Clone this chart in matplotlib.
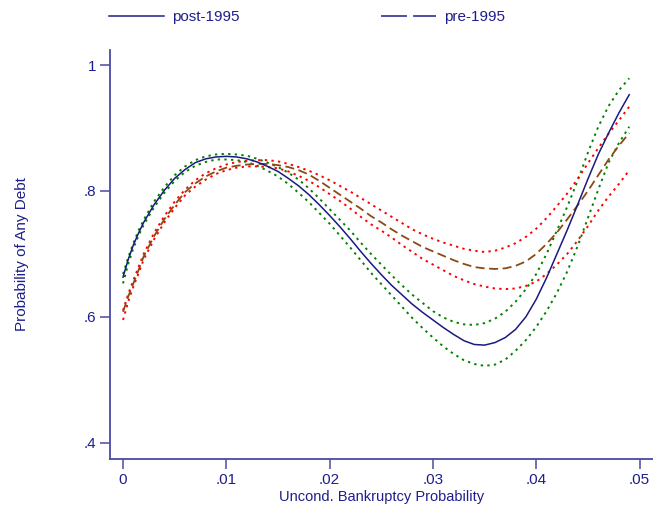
import matplotlib
matplotlib.use('Agg')
import matplotlib.pyplot as plt
from matplotlib.lines import Line2D

# values
bankr = [0, 0.0005, 0.001, 0.0015, 0.002,
         0.003, 0.004, 0.005, 0.006, 0.007, 0.008, 0.009, 0.010,
         0.011, 0.012, 0.013, 0.014, 0.015, 0.016, 0.017, 0.018, 0.019, 0.020,
         0.021, 0.022, 0.023, 0.024, 0.025, 0.026, 0.027, 0.028, 0.029, 0.030,
         0.031, 0.032, 0.033, 0.034, 0.035, 0.036, 0.037, 0.038, 0.039, 0.040,
         0.041, 0.042, 0.043, 0.044, 0.045, 0.046, 0.047, 0.048, 0.049]

post_1995 = [0.663, 0.691, 0.714, 0.733, 0.750,
             0.778, 0.801, 0.820, 0.834, 0.845, 0.851, 0.854, 0.855,
             0.854, 0.851, 0.846, 0.839, 0.831, 0.820, 0.808, 0.794, 0.778, 0.761,
             0.743, 0.724, 0.704, 0.685, 0.667, 0.650, 0.635, 0.620, 0.607, 0.595,
             0.583, 0.572, 0.562, 0.556, 0.555, 0.559, 0.567, 0.580, 0.600, 0.628,
             0.662, 0.700, 0.738, 0.778, 0.819, 0.858, 0.892, 0.924, 0.953]
post_hi = [0.668, 0.694, 0.717, 0.737, 0.754,
           0.783, 0.806, 0.825, 0.839, 0.849, 0.855, 0.858, 0.859,
           0.858, 0.856, 0.851, 0.845, 0.838, 0.829, 0.818, 0.804, 0.788, 0.771,
           0.754, 0.737, 0.718, 0.700, 0.683, 0.666, 0.650, 0.635, 0.622, 0.609,
           0.599, 0.592, 0.588, 0.587, 0.590, 0.597, 0.608, 0.624, 0.644, 0.668,
           0.700, 0.737, 0.775, 0.816, 0.861, 0.902, 0.935, 0.960, 0.979]
post_lo = [0.653, 0.684, 0.709, 0.729, 0.746,
           0.774, 0.797, 0.816, 0.830, 0.840, 0.846, 0.850, 0.850,
           0.849, 0.846, 0.840, 0.832, 0.823, 0.811, 0.797, 0.782, 0.765, 0.748,
           0.729, 0.710, 0.690, 0.670, 0.652, 0.634, 0.616, 0.598, 0.582, 0.567,
           0.553, 0.541, 0.531, 0.525, 0.522, 0.524, 0.532, 0.546, 0.563, 0.584,
           0.609, 0.638, 0.672, 0.712, 0.757, 0.802, 0.845, 0.876, 0.902]

pre_1995 = [0.608, 0.632, 0.653, 0.674, 0.696,
            0.728, 0.755, 0.778, 0.798, 0.812, 0.823, 0.831, 0.837,
            0.840, 0.842, 0.843, 0.843, 0.841, 0.838, 0.833, 0.826, 0.816, 0.805,
            0.794, 0.783, 0.772, 0.760, 0.750, 0.739, 0.729, 0.720, 0.711, 0.704,
            0.697, 0.690, 0.684, 0.679, 0.677, 0.676, 0.677, 0.681, 0.688, 0.700,
            0.716, 0.734, 0.755, 0.777, 0.800, 0.825, 0.850, 0.872, 0.892]
pre_hi = [0.610, 0.636, 0.658, 0.679, 0.700,
          0.733, 0.760, 0.783, 0.802, 0.817, 0.828, 0.836, 0.842,
          0.846, 0.848, 0.849, 0.849, 0.847, 0.843, 0.838, 0.832, 0.825, 0.817,
          0.808, 0.799, 0.789, 0.779, 0.769, 0.759, 0.749, 0.739, 0.731, 0.724,
          0.718, 0.713, 0.708, 0.705, 0.703, 0.705, 0.710, 0.717, 0.727, 0.740,
          0.757, 0.776, 0.796, 0.819, 0.844, 0.868, 0.891, 0.912, 0.934]
pre_lo = [0.595, 0.624, 0.648, 0.669, 0.691,
          0.723, 0.750, 0.773, 0.793, 0.807, 0.818, 0.827, 0.833,
          0.837, 0.839, 0.839, 0.838, 0.836, 0.831, 0.824, 0.816, 0.806, 0.795,
          0.784, 0.772, 0.759, 0.747, 0.737, 0.726, 0.714, 0.703, 0.692, 0.683,
          0.674, 0.665, 0.658, 0.652, 0.648, 0.645, 0.644, 0.645, 0.649, 0.656,
          0.668, 0.683, 0.700, 0.721, 0.744, 0.769, 0.791, 0.811, 0.833]

xticks = [0, 0.01, 0.02, 0.03, 0.04, 0.05]
xtick_labels = ['0', '.01', '.02', '.03', '.04', '.05']
yticks = [0.4, 0.6, 0.8, 1.0]
ytick_labels = ['.4', '.6', '.8', '1']

navy = '#1E1E8C'
spine_col = '#4A4AA2'

plt.rcParams['font.family'] = ['Liberation Sans', 'DejaVu Sans']

fig = plt.figure(figsize=(6.53, 5.08), dpi=100)
ax = fig.add_axes([110/653, 1 - 459/508, 1 - 110/653, (459 - 50)/508])

dot = (0, (1.2, 2.2))
ax.plot(bankr, post_hi, color='green', lw=1.4, linestyle=dot)
ax.plot(bankr, post_lo, color='green', lw=1.4, linestyle=dot)
ax.plot(bankr, pre_hi, color='red', lw=1.4, linestyle=dot)
ax.plot(bankr, pre_lo, color='red', lw=1.4, linestyle=dot)
ax.plot(bankr, pre_1995, color='#8B4A13', lw=1.3, linestyle=(0, (5, 2.5)))
ax.plot(bankr, post_1995, color='#1A1A80', lw=1.1)

ax.set_xlim(-0.00126, 0.0513)
ax.set_ylim(0.374, 1.024)
ax.set_xticks(xticks)
ax.set_xticklabels(xtick_labels)
ax.set_yticks(yticks)
ax.set_yticklabels(ytick_labels)

for s in ['top', 'right']:
    ax.spines[s].set_visible(False)
for s in ['left', 'bottom']:
    ax.spines[s].set_color(spine_col)
    ax.spines[s].set_linewidth(1.3)
ax.tick_params(colors=navy, labelcolor=navy, labelsize=11, length=7, width=1.1, pad=3)
ax.tick_params(axis='both', color=spine_col)

ax.set_xlabel('Uncond. Bankruptcy Probability', color=navy, fontsize=10.5, labelpad=2)
ax.set_ylabel('Probability of Any Debt', color=navy, fontsize=11, labelpad=39)

handles = [Line2D([], [], color=navy, lw=1.1),
           Line2D([], [], color=navy, lw=1.1, linestyle=(0, (17, 4)))]
fig.legend(handles, ['post-1995', 'pre-1995'], ncol=2, frameon=False,
           loc='center left', bbox_to_anchor=(109/653, 1 - 17/508),
           fontsize=11, labelcolor=navy, borderpad=0, borderaxespad=0,
           handlelength=3.6, handletextpad=0.5, columnspacing=9.3)

fig.savefig('out.png', dpi=100)
